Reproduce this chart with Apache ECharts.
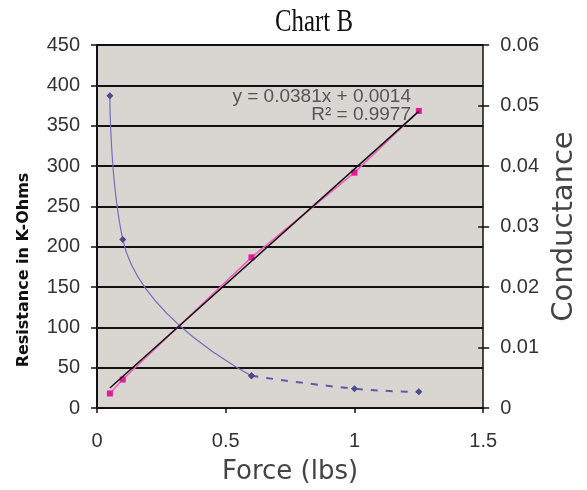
<!DOCTYPE html>
<html lang="en">
    <head>
        <meta charset="UTF-8" />
        <title>Chart B</title>
        <script src="https://cdn.jsdelivr.net/npm/echarts@6/dist/echarts.min.js"></script>
        <style>
            html, body { margin: 0; padding: 0; background: #fff; }
            #chart { width: 587px; height: 490px; }
        </style>
    </head>
    <body>
        <div id="chart"></div>
        <script>
            // force values (lbs)
            var force = [0.05, 0.1, 0.6, 1.0, 1.25];
            // resistance in K-Ohms
            var resistance = [387, 209, 40, 24, 20];
            // conductance
            var conductance = [0.0024, 0.0047, 0.0249, 0.0389, 0.0491];
            // linear trendline from the chart text
            var trendSlope = 0.0381;
            var trendIntercept = 0.0014;
            var trendX = [0.05, 1.25];
            var xTicks = [0, 0.5, 1, 1.5];

            var chart = echarts.init(document.getElementById('chart'));

            var resSolid = [], resDashed = [], condData = [], trendData = [];
            force.forEach(function (f, i) {
                if (i <= 2) resSolid.push([f, resistance[i]]);
                if (i >= 2) resDashed.push([f, resistance[i]]);
                condData.push([f, conductance[i]]);
            });
            trendX.forEach(function (x) {
                trendData.push([x, trendSlope * x + trendIntercept]);
            });

            var labelFont = { color: '#333', fontSize: 20, fontFamily: 'Liberation Sans' };

            var option = {
                backgroundColor: '#fff',
                animation: false,
                grid: { left: 97, right: 101, top: 45, bottom: 79, show: true, backgroundColor: '#d9d5d1', borderWidth: 0 },
                xAxis: {
                    type: 'value',
                    min: 0, max: 1.5, interval: 0.5,
                    name: 'Force (lbs)',
                    nameLocation: 'middle',
                    nameGap: 51,
                    nameTextStyle: { fontFamily: 'DejaVu Sans', fontSize: 26, color: '#444' },
                    axisLine: { show: true, lineStyle: { color: '#111', width: 2 } },
                    axisTick: { show: true, length: 5, lineStyle: { color: '#111', width: 1.5 } },
                    axisLabel: Object.assign({ margin: 23, formatter: function (v) { return xTicks.indexOf(v) >= 0 ? String(v) : ''; } }, labelFont),
                    splitLine: { show: false }
                },
                yAxis: [
                    {
                        type: 'value',
                        min: 0, max: 450, interval: 50,
                        position: 'left',
                        axisLine: { show: true, lineStyle: { color: '#111', width: 2 } },
                        axisTick: { show: true, length: 6, lineStyle: { color: '#111', width: 1.5 } },
                        axisLabel: Object.assign({ margin: 17 }, labelFont),
                        splitLine: { show: true, lineStyle: { color: '#111', width: 2 } }
                    },
                    {
                        type: 'value',
                        min: 0, max: 0.06, interval: 0.01,
                        position: 'right',
                        name: 'Conductance',
                        nameLocation: 'middle',
                        nameRotate: 90,
                        nameGap: 65,
                        nameTextStyle: { fontFamily: 'DejaVu Sans', fontSize: 29, color: '#444' },
                        axisLine: { show: true, lineStyle: { color: '#111', width: 1.5 } },
                        axisTick: { show: true, length: 6, lineStyle: { color: '#111', width: 1.5 } },
                        axisLabel: Object.assign({ margin: 17 }, labelFont),
                        splitLine: { show: false }
                    },
                    {
                        // inner half of the crossing ticks on the right axis
                        type: 'value',
                        min: 0, max: 0.06, interval: 0.01,
                        position: 'right',
                        axisLine: { show: false },
                        axisTick: { show: true, inside: true, length: 5, lineStyle: { color: '#111', width: 1.5 } },
                        axisLabel: { show: false },
                        splitLine: { show: false }
                    }
                ],
                graphic: [
                    {
                        type: 'text',
                        x: 314,
                        y: 23,
                        scaleX: 0.8,
                        style: {
                            text: 'Chart B',
                            fill: '#111',
                            font: '31px "Liberation Serif"',
                            textAlign: 'center',
                            textVerticalAlign: 'middle'
                        }
                    },
                    {
                        type: 'text',
                        x: 24,
                        y: 270,
                        rotation: Math.PI / 2,
                        style: {
                            text: 'Resistance in K-Ohms',
                            fill: '#111',
                            font: 'bold 16px "DejaVu Sans"',
                            textAlign: 'center',
                            textVerticalAlign: 'middle'
                        }
                    },
                    {
                        type: 'text',
                        x: 411,
                        y: 97,
                        style: {
                            text: 'y = 0.0381x + 0.0014',
                            fill: '#555',
                            font: '19px "Liberation Sans"',
                            textAlign: 'right',
                            textVerticalAlign: 'middle'
                        }
                    },
                    {
                        type: 'text',
                        x: 411,
                        y: 115,
                        style: {
                            text: 'R\u00b2 = 0.9977',
                            fill: '#555',
                            font: '19px "Liberation Sans"',
                            textAlign: 'right',
                            textVerticalAlign: 'middle'
                        }
                    }
                ],
                series: [
                    {
                        name: 'Resistance',
                        type: 'line',
                        yAxisIndex: 0,
                        data: resSolid,
                        smooth: 0.5,
                        symbol: 'diamond',
                        symbolSize: 7,
                        itemStyle: { color: '#4a4a90' },
                        lineStyle: { color: '#7070b8', width: 1.2 },
                        z: 3
                    },
                    {
                        name: 'Resistance (dashed)',
                        type: 'line',
                        yAxisIndex: 0,
                        data: resDashed,
                        smooth: 0.5,
                        symbol: 'diamond',
                        symbolSize: 7,
                        itemStyle: { color: '#4a4a90' },
                        lineStyle: { color: '#5c5ca4', width: 2, type: [7, 8] },
                        z: 3
                    },
                    {
                        name: 'Conductance',
                        type: 'line',
                        yAxisIndex: 1,
                        data: condData,
                        symbol: 'rect',
                        symbolSize: 6,
                        itemStyle: { color: '#e8189a' },
                        lineStyle: { color: '#f060b8', width: 1.5 },
                        z: 4
                    },
                    {
                        name: 'Trend',
                        type: 'line',
                        yAxisIndex: 1,
                        data: trendData,
                        symbol: 'none',
                        lineStyle: { color: '#111', width: 1.5 },
                        z: 5
                    }
                ]
            };

            chart.setOption(option);
        </script>
    </body>
</html>
